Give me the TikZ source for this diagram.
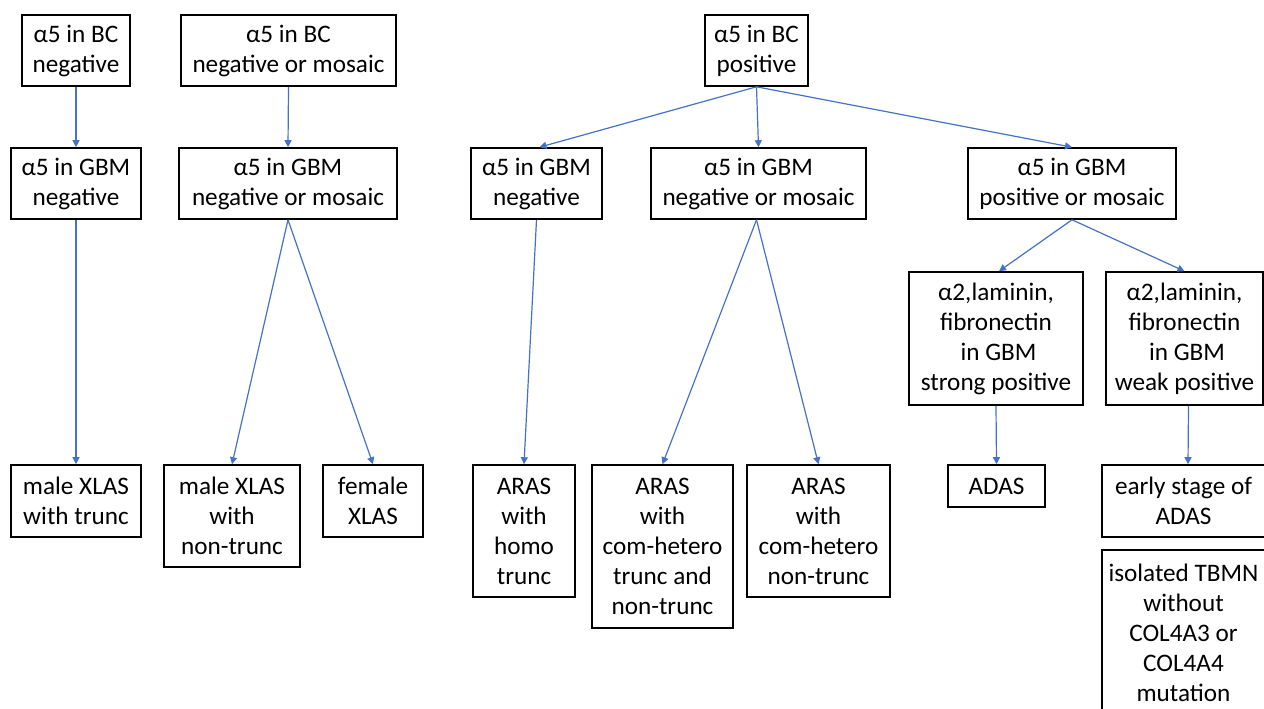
\documentclass[tikz,border=0pt]{standalone}
\usepackage{fontspec}
\setmainfont{Carlito}
\usetikzlibrary{arrows.meta}
\definecolor{arrowblue}{HTML}{4472C4}
\begin{document}
\begin{tikzpicture}[x=1pt,y=-1pt,
  box/.style={draw=black, line width=1.6pt, inner sep=0pt, align=center,
    font=\fontsize{25.2}{30}\selectfont},
  conn/.style={draw=arrowblue, line width=1.2pt, -{Triangle[width=7pt,length=7pt]}}]
\useasboundingbox[fill=white] (0,0) rectangle (1264,709);
% row 1
\node[box, minimum width=108pt, minimum height=71pt] (a1) at (76,50.5) {α5 in BC\\negative};
\node[box, minimum width=215pt, minimum height=71pt] (a2) at (288.5,50.5) {α5 in BC\\negative or mosaic};
\node[box, minimum width=103pt, minimum height=71pt] (a3) at (756.5,50.5) {α5 in BC\\positive};
% row 2
\node[box, minimum width=130pt, minimum height=71pt] (b1) at (76,183.5) {α5 in GBM\\negative};
\node[box, minimum width=218pt, minimum height=71pt] (b2) at (288,183.5) {α5 in GBM\\negative or mosaic};
\node[box, minimum width=131pt, minimum height=71pt] (b3) at (536.5,183.5) {α5 in GBM\\negative};
\node[box, minimum width=215pt, minimum height=71pt] (b4) at (758.5,183.5) {α5 in GBM\\negative or mosaic};
\node[box, minimum width=208pt, minimum height=71pt] (b5) at (1072,183.5) {α5 in GBM\\positive or mosaic};
% row 3
\node[box, minimum width=174pt, minimum height=133pt] (c1) at (996,338.5) {α2,laminin,\\fibronectin\\\hspace*{5pt}in GBM\\strong positive};
\node[box, minimum width=157pt, minimum height=133pt] (c2) at (1184.5,338.5) {α2,laminin,\\fibronectin\\\hspace*{5pt}in GBM\\weak positive};
% row 4
\node[box, minimum width=130pt, minimum height=72pt] (d1) at (76,501) {male XLAS\\with trunc};
\node[box, minimum width=136pt, minimum height=102pt] (d2) at (232,516) {male XLAS\\with\\non-trunc};
\node[box, minimum width=100pt, minimum height=72pt] (d3) at (373,501) {female\\XLAS};
\node[box, minimum width=102pt, minimum height=132pt] (d4) at (524,531) {ARAS\\with\\homo\\trunc};
\node[box, minimum width=141pt, minimum height=163pt] (d5) at (662.5,546.5) {ARAS\\with\\com-hetero\\trunc and\\non-trunc};
\node[box, minimum width=143pt, minimum height=132pt] (d6) at (818.5,531) {ARAS\\with\\com-hetero\\non-trunc};
\node[box, minimum width=97pt, minimum height=42pt] (d7) at (996.5,486) {ADAS};
\node[box, minimum width=163pt, minimum height=72pt] (d8) at (1183.5,501) {early stage of\\ADAS};
\node[box, minimum width=163pt, minimum height=166pt] (d9) at (1183.5,633) {isolated TBMN\\without\\COL4A3 or\\COL4A4\\mutation};
% connectors
\draw[conn] (a1.south) -- (b1.north);
\draw[conn] (a2.south) -- (b2.north);
\draw[conn] (a3.south) -- ([xshift=3pt]b3.north);
\draw[conn] (a3.south) -- (b4.north);
\draw[conn] (a3.south) -- (b5.north);
\draw[conn] (b1.south) -- (d1.north);
\draw[conn] (b2.south) -- (d2.north);
\draw[conn] (b2.south) -- (d3.north);
\draw[conn] (b3.south) -- (d4.north);
\draw[conn] ([xshift=-2pt]b4.south) -- (d5.north);
\draw[conn] ([xshift=-2pt]b4.south) -- (d6.north);
\draw[conn] (b5.south) -- ([xshift=3pt]c1.north);
\draw[conn] (b5.south) -- (c2.north);
\draw[conn] (c1.south) -- (d7.north);
\draw[conn] ([xshift=4pt]c2.south) -- ([xshift=4.5pt]d8.north);
\end{tikzpicture}
\end{document}
